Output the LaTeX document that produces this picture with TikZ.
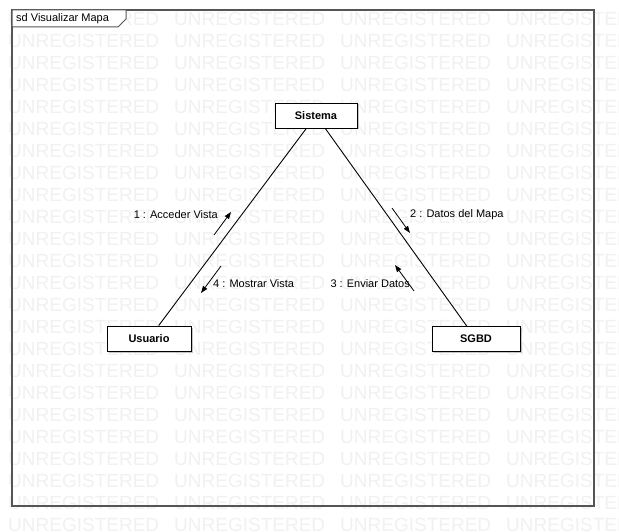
\documentclass[tikz,border=0pt]{standalone}
\usepackage{fontspec}
\setmainfont{Liberation Sans}
\usetikzlibrary{arrows.meta,shadows}
\definecolor{marca}{RGB}{241,241,241}
\definecolor{marco}{RGB}{85,85,85}
\tikzset{
	objeto/.style={draw=black,fill=white,line width=0.9pt,minimum height=25pt,inner sep=0pt,
		font=\fontsize{11}{13}\selectfont\bfseries,
		drop shadow={shadow xshift=1.5pt,shadow yshift=-1.5pt,fill=gray,opacity=0.45}},
	enlace/.style={line width=0.9pt},
	mensaje/.style={-{Triangle[length=7pt,width=5pt]},line width=0.8pt},
	etiqueta/.style={font=\fontsize{11}{13}\selectfont,inner sep=0pt},
	marcaagua/.style={text=marca,font=\fontsize{19}{20}\selectfont,inner sep=0pt,anchor=west}
}
\begin{document}
\begin{tikzpicture}[x=1pt,y=-1pt]
		\useasboundingbox (0,0) rectangle (619,532);
		\fill[white] (0,0) rectangle (619,532);
		\begin{scope}
			\clip (0,0) rectangle (619,532);
			\foreach \fila in {0,...,23}
				\foreach \col in {0,...,3}
					\node[marcaagua] (w\fila-\col) at (8+166*\col,19+22*\fila) {UNREGISTERED};
		\end{scope}
		\draw[marco,line width=1.3pt] (12,10) rectangle (594,506);
		\filldraw[fill=white,draw=marco,line width=1pt] (12,10) -- (12,27) -- (118,27) -- (126,19) -- (126,10) -- cycle;
		\node[etiqueta,anchor=west] (titulo) at (16,18.5) {sd Visualizar Mapa};
		\node[objeto,minimum width=82pt] (sistema) at (316,115.5) {Sistema};
		\node[objeto,minimum width=84pt] (usuario) at (149,338.5) {Usuario};
		\node[objeto,minimum width=88pt] (sgbd) at (476,339) {SGBD};
		\draw[enlace] (sistema) -- (usuario);
		\draw[enlace] (sistema) -- (sgbd);
		\coordinate (m1a) at (214,235); \coordinate (m1b) at (231,212);
		\coordinate (m2a) at (392,208); \coordinate (m2b) at (410,233);
		\coordinate (m3a) at (414,291); \coordinate (m3b) at (395,265);
		\coordinate (m4a) at (221,266); \coordinate (m4b) at (201,293);
		\draw[mensaje] (m1a) -- (m1b);
		\draw[mensaje] (m2a) -- (m2b);
		\draw[mensaje] (m3a) -- (m3b);
		\draw[mensaje] (m4a) -- (m4b);
		\node[etiqueta,anchor=east] (e1) at (218,215) {1 : Acceder Vista};
		\node[etiqueta,anchor=west] (e2) at (410,215) {2 : Datos del Mapa};
		\node[etiqueta,anchor=east] (e3) at (410,284) {3 : Enviar Datos};
		\node[etiqueta,anchor=west] (e4) at (213,284) {4 : Mostrar Vista};
	\end{tikzpicture}
\end{document}
